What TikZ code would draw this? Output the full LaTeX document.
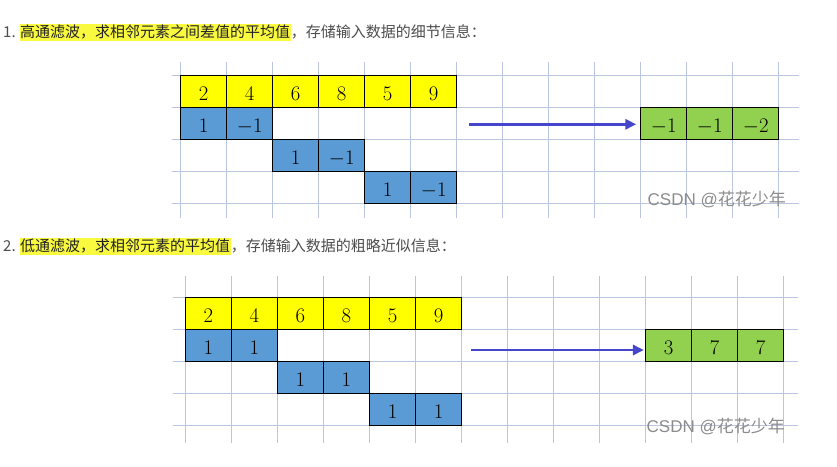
\documentclass[tikz,border=0pt]{standalone}
\usepackage{fontspec}
\newfontfamily\cjk{Noto Sans CJK SC}
\newfontfamily\arialish{Liberation Sans}
\usetikzlibrary{arrows.meta}
\definecolor{gridc}{HTML}{BAC6DF}
\definecolor{cyel}{HTML}{FFFF00}
\definecolor{cblue}{HTML}{5B9BD5}
\definecolor{cgreen}{HTML}{92D050}
\definecolor{hlyel}{HTML}{F9F940}
\definecolor{txtgray}{HTML}{4D4D4D}
\definecolor{txtdark}{HTML}{222226}
\definecolor{arrc}{HTML}{4646CC}
\definecolor{wmc}{HTML}{8C8C8C}
\begin{document}
\begin{tikzpicture}[x=1pt,y=-1pt,
  cell/.style={draw=black, line width=0.8pt, minimum width=46pt, minimum height=32pt,
    inner sep=0pt, font=\fontsize{21}{21}\selectfont, text height=18.5pt, text depth=0pt},
  yc/.style={cell, fill=cyel},
  bc/.style={cell, fill=cblue},
  gc/.style={cell, fill=cgreen},
  gridline/.style={draw=gridc, line width=0.9pt},
  plain/.style={inner sep=0pt, text=txtgray, font=\cjk\fontsize{15}{15}\selectfont},
  hl/.style={fill=hlyel, inner xsep=0.5pt, inner ysep=0pt, text height=13pt, text depth=3.7pt,
    text=txtdark, font=\cjk\fontsize{15}{15}\selectfont},
  wm/.style={inner sep=0pt, text=wmc, font=\fontsize{17}{17}\selectfont},
  arr/.style={draw=arrc, line width=2.8pt, -{Triangle[length=11pt,width=10pt]}}
]
\useasboundingbox (0,0) rectangle (837,466);
\fill[white] (0,0) rectangle (837,466);

% ---------- titles ----------
\node[plain, anchor=base west] (n1) at (3,37) {1.};
\node[hl, anchor=base west] (h1) at (19.3,37) {高通滤波，求相邻元素之间差值的平均值};
\node[plain, anchor=base west] (r1) at (h1.base east) {，存储输入数据的细节信息：};

\node[plain, anchor=base west] (n2) at (3,251.3) {2.};
\node[hl, anchor=base west] (h2) at (19.3,251.3) {低通滤波，求相邻元素的平均值};
\node[plain, anchor=base west] (r2) at (h2.base east) {，存储输入数据的粗略近似信息：};

% ---------- top grid ----------
\foreach \k in {0,...,13} \draw[gridline] (180.7+46*\k,62) -- (180.7+46*\k,217.7);
\foreach \r in {0,...,4} \draw[gridline] (171.7,75.5+32*\r) -- (799,75.5+32*\r);

% ---------- bottom grid ----------
\foreach \k in {0,...,13} \draw[gridline] (185.5+46*\k,276) -- (185.5+46*\k,443.3);
\foreach \r in {0,...,4} \draw[gridline] (172.7,297.5+32*\r) -- (797.7,297.5+32*\r);

% ---------- top cells ----------
\foreach \v [count=\i from 0] in {2,4,6,8,5,9}
  \node[yc] (ta\i) at (203.7+46*\i,91.5) {$\v$};
\node[bc] (tb0) at (203.7,123.5) {$1$};
\node[bc] (tb1) at (249.7,123.5) {$-1$};
\node[bc] (tb2) at (295.7,155.5) {$1$};
\node[bc] (tb3) at (341.7,155.5) {$-1$};
\node[bc] (tb4) at (387.7,187.5) {$1$};
\node[bc] (tb5) at (433.7,187.5) {$-1$};
\node[gc] (tg0) at (663.7,123.5) {$-1$};
\node[gc] (tg1) at (709.7,123.5) {$-1$};
\node[gc] (tg2) at (755.7,123.5) {$-2$};

\coordinate (tas) at (469,124.3);
\draw[arr, shorten >=4pt] (tas) -- (tas -| tg0.west);

% ---------- bottom cells ----------
\foreach \v [count=\i from 0] in {2,4,6,8,5,9}
  \node[yc] (ba\i) at (208.5+46*\i,313.5) {$\v$};
\node[bc] (bb0) at (208.5,345.5) {$1$};
\node[bc] (bb1) at (254.5,345.5) {$1$};
\node[bc] (bb2) at (300.5,377.5) {$1$};
\node[bc] (bb3) at (346.5,377.5) {$1$};
\node[bc] (bb4) at (392.5,409.5) {$1$};
\node[bc] (bb5) at (438.5,409.5) {$1$};
\node[gc] (bg0) at (668.5,345.5) {$3$};
\node[gc] (bg1) at (714.5,345.5) {$7$};
\node[gc] (bg2) at (760.5,345.5) {$7$};

\coordinate (bas) at (471,350);
\draw[arr, shorten >=1.2pt] (bas) -- (bas -| bg0.west);

% ---------- watermarks ----------
\node[wm, anchor=west] (wm1) at (647.5,199.5) {\arialish CSDN @\cjk 花花少年};
\node[wm, anchor=west] (wm2) at (646.5,426) {\arialish CSDN @\cjk 花花少年};
\end{tikzpicture}
\end{document}
